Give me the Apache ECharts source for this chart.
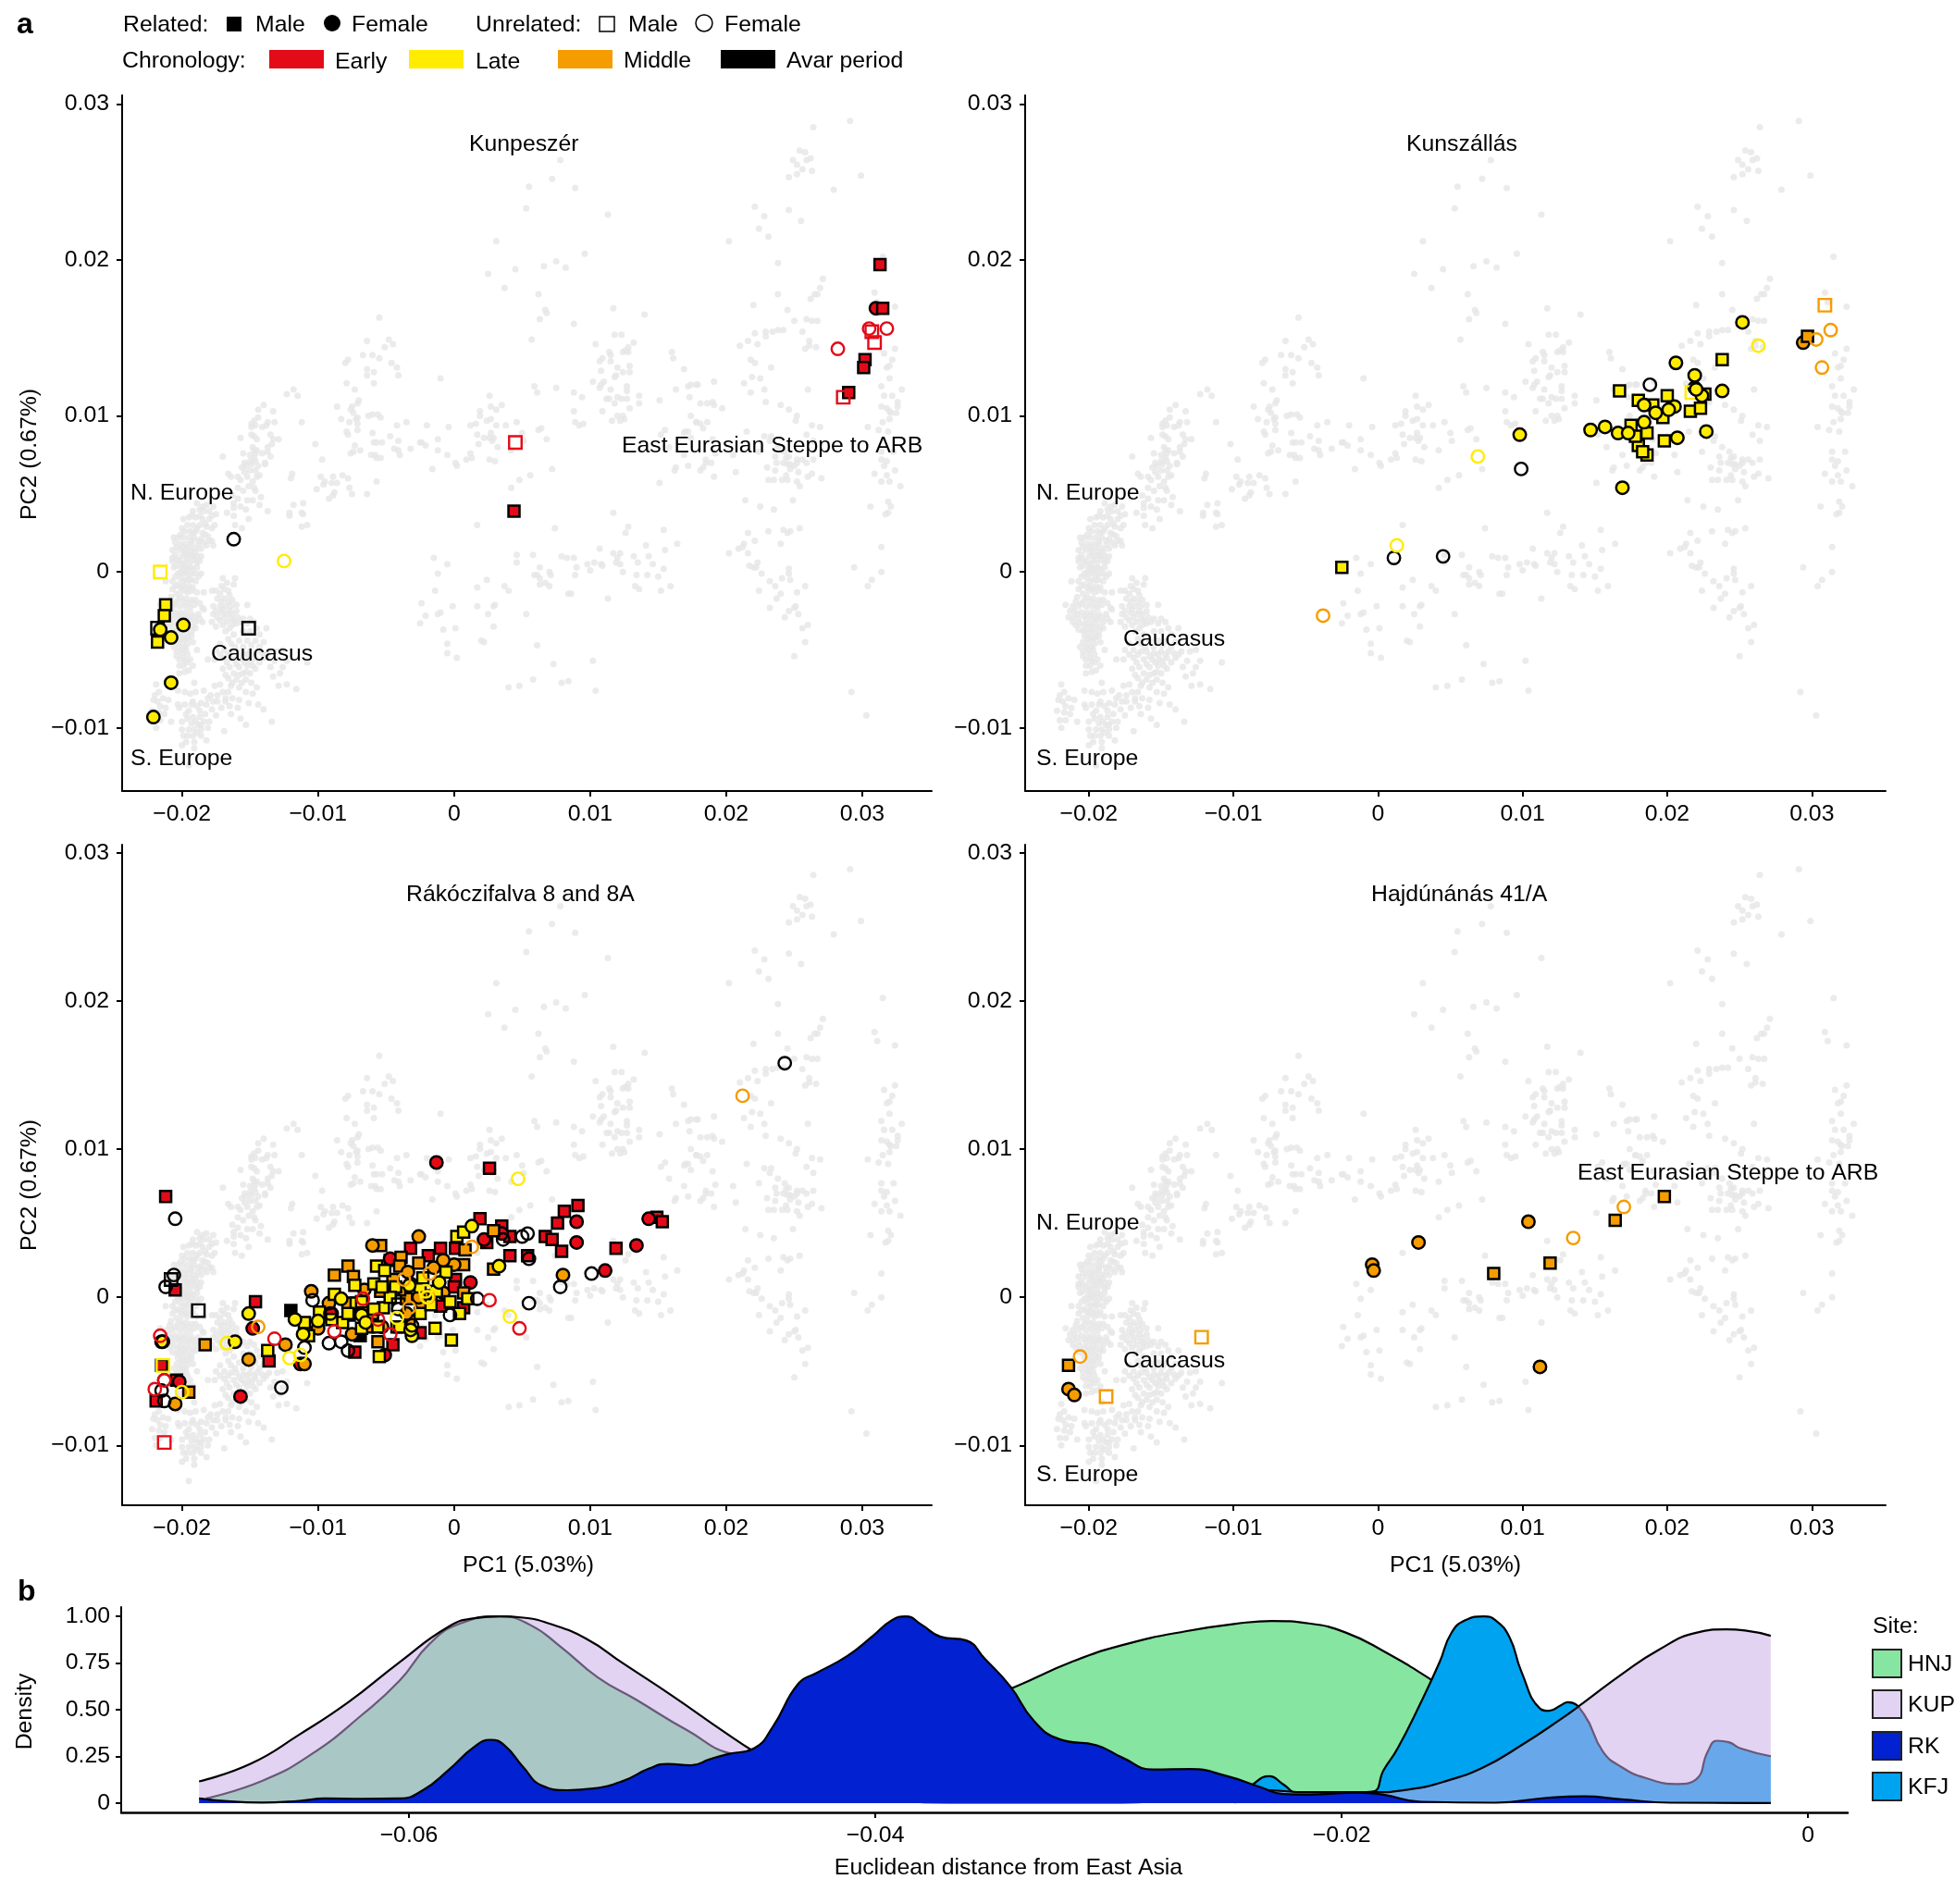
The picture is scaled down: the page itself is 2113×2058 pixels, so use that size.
<!DOCTYPE html>
<html><head><meta charset="utf-8"><style>html,body{margin:0;padding:0;background:#fff}#c{width:2113px;height:2058px}</style>
<script src="https://cdn.jsdelivr.net/npm/echarts@6/dist/echarts.min.js"></script></head><body><div id="c"></div>
<script>
// All PCA values below are in units of 1e-4 (PC1, PC2 pairs).
const UNIT = 1e-4;
const reference = [
-55,163,-64,148,-48,149,-45,146,-51,144,-67,139,-60,139,-55,137,-78,136,-80,134,-46,134,-42,131,-64,130,-59,128,-64,126,-41,126,-79,121,-59,121,-73,117,-118,117,-123,114,-115,113,-70,110,-71,108,-140,107,-86,106,-75,106,-76,104,-144,104,-133,103,-74,102,-63,100,-60,101,-56,101,-54,99,-71,99,-72,98,-144,99,-147,97,-83,98,-77,96,-71,95,-137,96,-132,96,-112,96,-149,95,-146,94,-138,94,-141,93,-149,93,-42,94,-35,96,-71,91,-79,90,-78,88,-60,89,-149,88,-135,88,-157,86,-147,87,-145,85,-133,85,-129,85,-47,87,-41,84,-59,83,-57,83,-53,83,-134,82,-102,82,-137,80,-73,81,-148,80,-147,78,-145,78,-137,77,-44,79,-41,78,-69,78,-32,79,-74,77,-76,76,-155,76,-141,76,-150,75,-146,76,-170,74,-135,74,-61,75,-58,75,-57,73,-54,73,-40,75,-147,73,-97,72,-25,83,-154,70,-150,71,-146,71,-139,70,
-98,61,-89,61,-82,62,-78,60,-57,58,-120,60,-119,63,-96,56,-95,58,-90,57,-86,57,-101,53,-77,54,-75,50,-64,50,-88,51,-89,49,-92,47,-118,43,-111,44,-112,38,-111,37,-121,38,-121,36,-108,30,-112,29,-137,39,-151,34,-161,30,-156,28,-143,43,-142,48,
-166,63,-164,61,-159,61,-156,67,-153,68,-149,69,-144,68,-139,69,-154,64,-150,65,-146,65,-143,62,-145,61,-152,61,-157,59,-148,58,-151,55,-147,54,-159,54,-155,52,-146,52,-163,49,-159,47,-152,46,-148,46,-162,44,-157,42,-153,40,-162,41,-167,38,-162,36,-178,36,-175,37,
-182,43,-187,40,-192,39,-184,39,-180,39,-199,34,-195,35,-190,35,-185,34,-180,34,-196,30,-192,30,-187,30,-182,29,-178,28,-198,26,-194,26,-190,26,-185,25,-181,23,-203,22,-199,22,-195,22,-191,22,-186,21,-178,20,-177,17,-205,19,-201,18,-197,18,-193,18,-188,17,-182,17,-207,14,-202,14,-198,14,-194,13,-190,13,-200,10,-196,10,-192,10,-186,10,-207,9,-207,7,-202,7,-198,6,-194,6,-189,6,-206,3,-200,2,-196,2,-192,2,-203,-1,-199,-1,-195,-2,-186,-1,-201,-4,-197,-5,-193,-5,-188,-3,-212,-6,-207,-6,-203,-8,-199,-9,-195,-9,-192,-10,-207,-11,-200,-12,-196,-13,-184,-13,-204,-14,-208,-16,-201,-16,-197,-17,-193,-18,-190,-18,-216,-21,-211,-22,-207,-22,-202,-22,-198,-22,-194,-23,-185,-23,-184,-24,-210,-25,-205,-26,-201,-26,-197,-26,-193,-27,-188,-27,-214,-29,-211,-29,-207,-30,-202,-30,-198,-30,-194,-31,-190,-32,-185,-32,-209,-34,-203,-34,-199,-35,-195,-35,-190,-36,-204,-38,-200,-39,-196,-39,-201,-43,-197,-43,-193,-41,-202,-48,-198,-48,-189,-50,-204,-51,-200,-52,-196,-53,-202,-56,-198,-57,-194,-56,-181,-56,-199,-60,-195,-63,-202,-65,
-161,-4,-170,-4,-167,-7,-171,-9,-162,-8,-178,-12,-175,-12,-169,-11,-166,-12,-174,-17,-169,-17,-165,-15,-177,-22,-172,-22,-168,-22,-164,-22,-160,-21,-152,-21,-177,-27,-171,-26,-167,-27,-163,-27,-178,-32,-172,-31,-167,-32,-162,-31,-155,-30,-150,-30,-147,-32,-165,-36,-160,-33,-145,-36,-138,-36,-164,-46,-175,-50,-169,-50,-164,-51,-160,-51,-155,-52,-150,-51,-145,-51,-138,-53,-136,-51,-130,-51,-126,-50,-176,-56,-169,-55,-162,-56,-156,-56,-151,-56,-146,-55,-140,-55,-132,-57,-123,-57,-108,-58,-170,-62,-165,-61,-158,-61,-152,-60,-148,-60,-135,-61,-126,-61,-162,-65,-155,-65,-150,-65,-128,-65,-133,-67,-166,-68,-160,-69,-153,-69,-149,-71,-145,-74,-129,-73,-123,-72,-116,-75,-176,-73,-164,-73,-158,-74,-170,-77,-166,-77,-174,-79,-179,-79,-182,-85,-174,-83,-168,-83,-163,-81,-158,-82,-151,-84,-144,-85,-140,-88,-165,-86,-159,-87,-171,-87,-164,-91,-157,-94,-153,-98,-134,-96,-169,-102,
-219,-72,-220,-79,-217,-77,-221,-82,-218,-83,-214,-81,-210,-82,-216,-86,-212,-87,-222,-89,-217,-90,-213,-91,-220,-95,-216,-95,-208,-96,-219,-100,
-203,-76,-198,-77,-194,-78,-190,-77,-184,-76,-191,-71,-203,-85,-198,-85,-193,-85,-186,-84,-181,-81,-202,-87,-195,-89,-187,-89,-183,-91,-196,-94,-192,-93,-187,-93,-184,-96,-180,-96,-193,-97,-188,-98,-200,-101,-195,-101,-191,-101,-186,-101,-181,-100,-199,-105,-192,-105,-186,-105,-182,-108,-197,-109,-191,-109,-200,-111,-191,-113,-195,-124,
-189,44,-185,42,-177,42,-193,36,-187,36,-183,31,-176,30,-200,28,-189,28,-201,24,-192,25,-183,24,-206,22,-193,20,-188,20,-184,19,-180,20,-204,16,-199,16,-195,16,-191,15,-186,15,-205,11,-198,12,-193,11,-189,10,-204,8,-200,5,-196,8,-191,8,-187,7,-204,4,-198,3,-194,3,-189,3,-201,0,-197,0,-193,-1,-190,-1,-205,-3,-199,-6,-195,-5,-190,-6,-205,-9,-201,-10,-197,-11,-193,-12,-189,-13,-203,-18,-199,-19,-195,-20,-191,-21,-187,-20,-209,-19,-205,-20,-213,-25,-208,-27,-203,-28,-199,-28,-195,-29,-191,-29,-187,-30,-211,-32,-206,-33,-201,-33,-197,-33,-192,-35,-207,-37,-202,-37,-198,-37,-193,-38,-203,-41,-199,-42,-195,-42,-204,-45,-200,-46,-196,-46,-192,-45,-206,-48,-200,-50,-197,-50,-204,-54,-199,-55,-196,-58,-202,-60,-192,-60,-198,-64,
-172,-14,-166,-19,-171,-19,-163,-18,-175,-25,-170,-24,-165,-25,-160,-25,-174,-29,-169,-29,-164,-30,-159,-29,-175,-35,-170,-34,-163,-34,-157,-32,-152,-33,-168,-38,-162,-40,-155,-38,-150,-38,-143,-40,-166,-43,-158,-44,-152,-44,-146,-44,-140,-45,-172,-46,-161,-48,-155,-48,-149,-47,-143,-48,-172,-53,-166,-53,-158,-54,-152,-53,-147,-53,-141,-52,-167,-58,-160,-59,-154,-58,-149,-57,-143,-58,-168,-66,-158,-66,-153,-64,-146,-62,-163,-71,-156,-71,-172,-72,-168,-81,-153,-77,-148,-78,-177,-83,-178,-88,-175,-92,-192,-83,-189,-86,-197,-91,-200,-96,-190,-96,-186,-98,-189,-103,-196,-105,
-16,66,2,68,72,66,56,62,48,59,42,54,17,30,74,28,-15,9,-5,5,-12,-1,46,11,58,11,46,6,63,3,70,0,71,-2,59,-2,61,-2,63,-4,24,-5,37,-9,40,-12,17,-10,63,-8,67,-7,70,-9,-14,-12,-24,-20,-1,-22,17,-22,29,-22,30,-21,25,-27,53,-27,-21,-28,-12,-27,-10,-26,-25,-33,-8,-37,1,-36,29,-35,20,-44,22,-45,-5,-46,61,-47,-5,-52,2,-55,73,-59,58,-69,48,-73,40,-74,79,-71,84,-70,104,-76,102,-57,79,10,83,9,88,9,90,3,89,-2,98,5,103,6,100,1,108,5,109,4,84,-14,86,-14,113,-17,107,15,117,12,122,12,120,9,119,6,122,5,124,0,132,10,135,6,134,-2,142,-2,143,10,146,5,154,2,150,-3,141,17,155,14,164,18,154,27,133,-9,136,-11,159,-9,152,-12,126,25,128,29,117,38,151,57,163,67,162,65,172,68,
78,264,72,252,55,247,89,246,53,233,113,229,31,212,96,204,75,199,66,196,82,195,45,194,25,191,37,182,62,178,67,168,68,166,63,162,88,159,57,149,117,169,140,165,118,152,123,152,104,146,132,147,128,144,124,141,126,142,128,141,114,141,115,139,109,137,107,135,115,135,129,132,120,131,108,129,124,128,129,128,119,126,118,125,-10,124,110,122,102,122,108,120,107,118,127,119,127,116,115,117,59,119,61,115,75,118,88,115,26,113,94,112,112,111,114,111,120,112,123,111,127,111,118,108,136,113,136,108,151,110,35,107,27,106,31,104,129,105,19,103,88,103,109,103,19,100,124,100,120,100,125,98,122,97,116,97,24,97,27,98,46,96,89,96,92,94,95,95,16,95,12,94,31,94,38,94,-20,94,-4,93,62,91,64,92,155,91,50,89,17,88,27,89,26,86,22,86,29,86,28,84,-12,85,51,84,68,85,-24,83,18,82,-21,81,32,80,-12,78,42,78,-5,75,12,76,13,73,9,72,26,72,30,71,1,70,169,89,172,90,174,86,169,75,174,100,178,96,173,112,163,117,172,119,174,120,178,120,169,130,160,141,161,137,
230,67,236,65,237,70,245,69,247,69,247,66,244,62,253,64,231,59,235,59,241,59,245,59,252,58,254,55,260,61,263,63,270,60,214,46,225,42,235,40,249,46,231,26,242,27,245,25,247,26,254,28,216,25,221,20,240,18,213,18,212,16,209,15,202,12,216,12,223,6,217,4,220,3,222,3,226,-1,246,2,246,-1,241,-4,247,-5,232,-6,236,-9,258,-9,224,-12,252,-13,240,-14,237,-17,232,-23,251,-22,250,-23,246,-25,253,-27,243,-29,260,-34,256,-36,258,-45,250,-54,292,-77,303,-92,207,64,191,61,181,65,183,67,185,70,189,70,252,70,259,70,309,63,316,68,318,62,314,58,320,58,324,65,328,55,319,45,321,42,306,42,319,38,317,37,314,16,294,3,314,0,307,-5,304,-9,
291,289,264,285,254,270,258,269,249,264,259,264,262,265,252,261,256,258,263,257,252,255,246,253,299,254,279,245,
221,234,246,232,228,228,255,225,224,220,231,215,202,212,315,202,238,198,271,188,269,182,267,178,265,178,238,178,309,179,262,175,311,173,220,171,324,170,245,168,259,162,250,161,263,161,267,161,242,155,238,155,234,154,229,154,256,154,221,153,229,151,216,148,261,148,223,146,210,145,261,145,266,144,258,143,324,143,316,140,218,136,221,134,322,136,320,132,318,131,233,131,219,125,225,124,320,124,191,122,213,121,179,120,314,119,329,117,228,117,260,117,218,115,316,113,322,113,229,109,181,108,186,108,190,109,191,107,240,107,326,109,326,106,314,106,197,105,246,104,318,105,320,103,325,102,321,102,320,98,252,100,251,97,178,96,181,95,186,96,183,92,315,96,263,94,269,93,304,93,312,91,319,90,170,90,228,87,233,87,259,88,264,84,243,77,236,74,244,73,252,72,256,72,264,72,224,77,185,72,192,76,314,77,323,77,314,72,318,71,232,84,238,80,242,70,246,74,250,68,190,85,205,75,215,90,152,88,158,80
];

// Kunpeszer
const kupEarlyRelM = [313,197,315,169,302,136,301,131,290,115,44,39];
const kupEarlyRelF = [310,169];
const kupEarlyUnM = [45,83,286,112,309,147,307,154];
const kupEarlyUnF = [282,143,305,156,318,156];
const kupLateRelM = [-212,-21,-213,-28,-218,-45];
const kupLateRelF = [-199,-34,-216,-37,-208,-42,-208,-71,-221,-93];
const kupLateUnM = [-216,0];
const kupLateUnF = [-125,7];
const kupAvarUnM = [-151,-36,-218,-36];
const kupAvarUnF = [-162,21];
// Kunszallas
const kfjLateRelM = [-25,3,167,116,180,110,190,107,200,113,226,114,238,136,216,103,223,105,197,99,175,94,186,89,198,84,180,81,186,75,178,87,183,77];
const kfjLateRelF = [98,88,147,91,157,93,166,89,173,89,169,54,184,96,192,102,205,106,201,104,207,86,227,90,238,116,224,113,220,117,219,126,206,134,252,160,184,107];
const kfjLateUnM = [217,115];
const kfjLateUnF = [69,74,13,17,263,145];
const kfjAvarUnF = [99,66,11,9,45,10,188,120,219,118];
const kfjMidRelM = [297,151];
const kfjMidRelF = [294,147];
const kfjMidUnM = [309,171];
const kfjMidUnF = [-38,-28,303,149,313,155,307,131];
// Rakoczifalva
const rkEarlyRelM = [-212,68,26,87,-146,-3,-205,5,-136,-43,91,62,81,58,76,50,67,41,72,39,79,31,41,28,54,28,119,33,149,54,153,51,19,53,35,48,41,41,24,37,1,33,-10,33,-32,33,-19,28,-47,25,1,12,0,7,-10,-6,7,-7,-73,-37,-25,-24,-45,-32,-219,-70,-215,-46,-204,-56];
const rkEarlyRelF = [-13,91,90,51,90,37,143,53,134,35,111,18,22,39,12,10,-148,-21,-157,-67,-51,-39,-202,-57,-113,-45,-90,-11,-47,26,35,43];
const rkEarlyUnM = [-213,-98];
const rkEarlyUnF = [26,-2,48,-21,-132,-28,-88,-23,-56,-15,-47,-25,-67,-1,-216,-26,-220,-62,-213,-56];
const rkMidRelM = [-88,15,-78,21,-74,14,-54,35,-39,27,-40,21,-26,23,-45,12,-54,4,7,22,29,19,29,45,8,32,7,3,-183,-32,-195,-64,-56,-30,-33,-16,-63,-20,-78,-4,-35,-1,-40,5,-23,1,-60,-11];
const rkMidRelF = [-60,35,-26,41,0,22,-105,4,-92,-4,80,15,-124,-32,-151,-42,-110,-45,-205,-72,-100,-21,-75,-25,-34,17,-15,20,-24,-4,-8,3,-66,5,-8,25,-44,5,-32,9,-26,0,-53,-20,-68,-7,-35,-11];
const rkMidUnF = [13,34,-144,-20,-18,16,-37,12,-33,-7,-19,0,212,136];
const rkLateRelM = [2,41,7,44,-57,21,-51,18,-59,9,-73,8,-88,2,-72,-4,-99,-10,-77,-12,-82,-17,-110,-17,-107,-26,-137,-36,-14,-21,-2,-29,4,-11,-3,-3,10,-1,-6,17,-13,4,-52,-7,-25,-11,-43,7,-17,-5,-55,-40,-42,-20,-68,-3,-59,-8,-47,0,-25,7,-56,-20,-40,-20,-23,13,-53,7,-78,-11,-68,-21,-90,-15];
const rkLateRelF = [13,48,33,21,-151,-11,-161,-30,-83,-1,-117,-15,-100,-16,-68,-12,-33,8,-11,10,-31,-26,-32,-22,-111,-25,-215,-30,-65,-17];
const rkLateUnM = [-214,-46];
const rkLateUnF = [47,80,41,-13,-121,-41,-167,-31,-200,-64,-42,-14,-113,-39,-21,4,-20,0];
const rkAvarRelM = [-120,-9,-69,-26];
const rkAvarUnM = [-188,-9,-208,12,-41,-5];
const rkAvarUnF = [-205,53,-206,15,-212,7,54,43,50,41,36,39,55,26,101,16,78,7,55,-4,17,-1,-104,-2,-91,-11,-92,-31,-83,-30,-110,-34,-78,-36,-127,-61,-215,-63,-213,-70,-213,-56,-214,-30,-41,-8,-3,-12,-31,-19,243,158];
// Hajdunanas
const hnjMidRelM = [80,16,119,23,164,52,198,68,-214,-46];
const hnjMidRelF = [104,51,28,37,-4,22,-3,18,112,-47,-214,-62,-210,-66];
const hnjMidUnM = [-122,-27,-188,-67];
const hnjMidUnF = [135,40,170,61,-206,-40];

// Density curves: x in 1e-4, density in percent
const densHNJ = [-687,2.5,-663,11.9,-642,26,-620,47.4,-604,65.6,-591,85.5,-578,96.2,-561,100,-548,95.4,-535,83.8,-519,67.3,-503,55.7,-481,39.2,-460,26,-433,22.6,-412,29.3,-390,39.2,-364,50.7,-340,62.3,-316,75.5,-294,84.6,-267,92,-241,96.7,-230,97.5,-214,96.2,-198,91.2,-182,81.3,-160,64.8,-144,50.7,-118,27.6,-91,9.4,-59,1.2,-16,0];
const densKUP = [-690,11.6,-668,21,-647,36.7,-626,54,-604,75.5,-583,94.5,-572,99,-561,100,-551,99.3,-540,96.2,-524,88,-508,74.7,-487,57.4,-465,38.3,-452,27.6,-433,14.4,-401,3.6,-369,0.3,-294,0.3,-262,2.8,-235,7,-214,5.8,-187,5.8,-171,7.3,-155,11.9,-139,19.3,-123,30.9,-107,44.1,-96,54,-80,68.9,-64,82.1,-48,91.2,-35,93,-27,92.4,-16,89.6];
const densRK = [-690,2.5,-663,0.3,-647,1.2,-636,2.5,-620,2.3,-604,2.5,-594,6.9,-583,17.7,-572,30.1,-565,33.9,-559,30.9,-551,19.3,-543,9.4,-532,6.9,-521,7.8,-508,11.9,-497,18.5,-489,21,-479,20.2,-471,23.5,-463,26.3,-452,29.3,-444,40.8,-433,64,-425,69.8,-412,78.8,-401,89.6,-393,97.9,-387,100,-380,95.4,-372,89.1,-361,87.1,-353,77.2,-342,62.3,-332,44.1,-321,34.2,-305,30.9,-294,24.3,-281,18,-265,18.2,-249,14.4,-235,8.6,-225,4.8,-214,4.5,-193,5.6,-182,4.5,-166,0.7,-134,0.2,-112,2.8,-96,3.6,-80,2,-59,0.2,-16,0];
const densKFJ = [-246,0,-238,10,-231,14.4,-225,10,-219,5.3,-209,5.1,-187,6.1,-182,17.7,-176,29.3,-166,54,-158,75.5,-153,91,-147,97.9,-139,100,-134,97.9,-128,88.8,-123,70.6,-115,50.7,-111,49.4,-106,52.4,-103,54,-96,47.4,-88,27.6,-80,19.3,-70,13.6,-56,10.2,-48,12.7,-43,27.6,-39,33.4,-34,32.6,-29,29.3,-16,25.1];

const pcXTicks = [-0.02,-0.01,0,0.01,0.02,0.03];
const pcYTicks = [-0.01,0,0.01,0.02,0.03];
const densXTicks = [-0.06,-0.04,-0.02,0];
const densYTicks = [0,0.25,0.5,0.75,1];
const chronNames = ['Early','Late','Middle','Avar period'];
const siteNames = ['HNJ','KUP','RK','KFJ'];

const RED='#e30b17', YEL='#ffec00', ORG='#f59c00', BLK='#000000';
const FONT='"Liberation Sans", Arial, sans-serif';
const FS=24.8;
const pairs=(a)=>{const o=[];for(let i=0;i<a.length;i+=2)o.push([a[i]*UNIT,a[i+1]*UNIT]);return o;};
const fmt=(v)=>{ if(Math.abs(v)<1e-9) return '0'; return (v<0?'\u2212':'')+Math.abs(v).toFixed(2); };

const grids=[
 {left:132,top:103,width:875,height:752},
 {left:1108,top:103,width:930,height:752},
 {left:132,top:913,width:875,height:714},
 {left:1108,top:913,width:930,height:714},
 {left:131,top:1737,width:1866,height:222}
];
const axisCommon={axisLine:{show:true,onZero:false,lineStyle:{color:'#000',width:2}},axisTick:{show:true,length:6,lineStyle:{color:'#000',width:2}},splitLine:{show:false}};
const xAxes=[],yAxes=[];
for(let i=0;i<4;i++){
 xAxes.push({...axisCommon,type:'value',gridIndex:i,min:-0.0244,max:0.0351,
  axisTick:{...axisCommon.axisTick,customValues:pcXTicks},
  axisLabel:{customValues:pcXTicks,formatter:fmt,fontSize:FS,fontFamily:FONT,color:'#000',margin:13}});
 yAxes.push({...axisCommon,type:'value',gridIndex:i,min:-0.01404,max:0.03055,
  axisTick:{...axisCommon.axisTick,customValues:pcYTicks},
  axisLabel:{customValues:pcYTicks,formatter:fmt,fontSize:FS,fontFamily:FONT,color:'#000',margin:14}});
}
xAxes.push({...axisCommon,type:'value',gridIndex:4,min:-0.07234,max:0.0017,
 axisLine:{show:true,onZero:false,lineStyle:{color:'#000',width:2.5}},
 axisTick:{...axisCommon.axisTick,customValues:densXTicks},
 axisLabel:{customValues:densXTicks,formatter:fmt,fontSize:FS,fontFamily:FONT,color:'#000',margin:13}});
yAxes.push({...axisCommon,type:'value',gridIndex:4,min:-0.05,max:1.05,
 axisTick:{...axisCommon.axisTick,customValues:densYTicks},
 axisLabel:{customValues:densYTicks,formatter:(v)=>Math.abs(v)<1e-9?'0':v.toFixed(2),fontSize:FS,fontFamily:FONT,color:'#000',margin:12}});

const series=[];
const greyData=pairs(reference);
for(let i=0;i<4;i++){
 series.push({type:'scatter',xAxisIndex:i,yAxisIndex:i,data:greyData,symbol:'circle',symbolSize:7,silent:true,z:1,
  itemStyle:{color:'#e6e6e6'},animation:false});
}
function add(p,data,color,rel,sex,z){
 series.push({type:'scatter',xAxisIndex:p,yAxisIndex:p,data:pairs(data),silent:true,z:z,animation:false,
  symbol:sex==='M'?'rect':'circle',symbolSize:sex==='M'?(rel?12:13.5):13.5,
  itemStyle: rel?{color:color,borderColor:'#000',borderWidth:2.5,opacity:1}
               :{color:'rgba(0,0,0,0)',borderColor:color,borderWidth:2.4,opacity:1}});
}
// Kunpeszer
add(0,kupAvarUnM,BLK,false,'M',2);add(0,kupAvarUnF,BLK,false,'F',2);
add(0,kupEarlyRelF,RED,true,'F',3);add(0,kupEarlyRelM,RED,true,'M',3);
add(0,kupEarlyUnM,RED,false,'M',4);add(0,kupEarlyUnF,RED,false,'F',4);
add(0,kupLateRelM,YEL,true,'M',3);add(0,kupLateRelF,YEL,true,'F',3);
add(0,kupLateUnM,YEL,false,'M',4);add(0,kupLateUnF,YEL,false,'F',4);
// Kunszallas
add(1,kfjAvarUnF,BLK,false,'F',2);
add(1,kfjLateUnM,YEL,false,'M',2);
add(1,kfjLateRelM,YEL,true,'M',3);add(1,kfjLateRelF,YEL,true,'F',3);
add(1,kfjLateUnF,YEL,false,'F',4);
add(1,kfjMidRelF,ORG,true,'F',3);add(1,kfjMidRelM,ORG,true,'M',3);
add(1,kfjMidUnM,ORG,false,'M',4);add(1,kfjMidUnF,ORG,false,'F',4);
// Rakoczifalva
add(2,rkAvarRelM,BLK,true,'M',2);
add(2,rkEarlyRelM,RED,true,'M',3);add(2,rkEarlyRelF,RED,true,'F',3);
add(2,rkMidRelM,ORG,true,'M',4);add(2,rkMidRelF,ORG,true,'F',4);
add(2,rkLateRelM,YEL,true,'M',5);add(2,rkLateRelF,YEL,true,'F',5);
add(2,rkAvarUnM,BLK,false,'M',6);add(2,rkAvarUnF,BLK,false,'F',6);
add(2,rkEarlyUnM,RED,false,'M',7);add(2,rkEarlyUnF,RED,false,'F',7);
add(2,rkMidUnF,ORG,false,'F',7);
add(2,rkLateUnM,YEL,false,'M',7);add(2,rkLateUnF,YEL,false,'F',7);
// Hajdunanas
add(3,hnjMidRelM,ORG,true,'M',3);add(3,hnjMidRelF,ORG,true,'F',3);
add(3,hnjMidUnM,ORG,false,'M',4);add(3,hnjMidUnF,ORG,false,'F',4);

function dens(d){const o=[];for(let i=0;i<d.length;i+=2)o.push([d[i]*UNIT,d[i+1]/100]);return o;}
function addDens(d,fill,z){
 series.push({type:'line',xAxisIndex:4,yAxisIndex:4,data:dens(d),smooth:0.5,symbol:'none',z:z,silent:true,animation:false,
  lineStyle:{color:'#000',width:2.2},areaStyle:{color:fill,opacity:1,origin:'auto'},itemStyle:{color:fill}});
}
addDens(densHNJ,'#86e5a1',2);
addDens(densKFJ,'#00a3f0',3);
addDens(densKUP,'rgba(201,170,230,0.52)',4);
addDens(densRK,'#0221d0',5);

const g=[];
function T(text,x,y,opt){opt=opt||{};
 g.push({type:'text',x:x,y:y+1,rotation:opt.rot||0,silent:true,z:50,style:{text:text,fontSize:opt.fs||FS,fontFamily:FONT,fontWeight:opt.bold?'bold':'normal',fill:'#000',textAlign:opt.align||'left',textVerticalAlign:'middle'}});
}
function R(x,y,w,h,fill,stroke,lw){g.push({type:'rect',silent:true,z:50,shape:{x:x,y:y,width:w,height:h},style:{fill:fill,stroke:stroke||null,lineWidth:lw||0}});}
function C(x,y,r,fill,stroke,lw){g.push({type:'circle',silent:true,z:50,shape:{cx:x,cy:y,r:r},style:{fill:fill,stroke:stroke||null,lineWidth:lw||0}});}
T('a',18,26,{bold:true,fs:32});
T('b',19,1720,{bold:true,fs:32});
T('Related:',133,26);R(245,18,16,16,'#000');T('Male',276,26);C(359,25,9,'#000');T('Female',380,26);
T('Unrelated:',514,26);R(648,18,16,16,'none','#000',1.5);T('Male',679,26);C(761,25,9,'none','#000',1.5);T('Female',783,26);
T('Chronology:',132,65);
R(291,54,59,20,RED);T(chronNames[0],362,66);
R(442,54,59,20,YEL);T(chronNames[1],514,66);
R(603,54,59,20,ORG);T(chronNames[2],674,65);
R(779,54,59,20,BLK);T(chronNames[3],850,65);
// panel annotations
T('Kunpesz\u00e9r',507,155);T('East Eurasian Steppe to ARB',672,481);T('N. Europe',141,532);T('Caucasus',228,706);T('S. Europe',141,819);
T('Kunsz\u00e1ll\u00e1s',1520,155);T('N. Europe',1120,532);T('Caucasus',1214,690);T('S. Europe',1120,819);
T('R\u00e1k\u00f3czifalva 8 and 8A',439,966);
T('Hajd\u00fan\u00e1n\u00e1s 41/A',1482,966);T('East Eurasian Steppe to ARB',1705,1267);T('N. Europe',1120,1321);T('Caucasus',1214,1470);T('S. Europe',1120,1593);
T('PC2 (0.67%)',32,490,{rot:Math.PI/2,align:'center'});
T('PC2 (0.67%)',32,1280,{rot:Math.PI/2,align:'center'});
T('PC1 (5.03%)',571,1691,{align:'center'});
T('PC1 (5.03%)',1573,1691,{align:'center'});
T('Density',27,1849,{rot:Math.PI/2,align:'center'});
T('Euclidean distance from East Asia',1090,2018,{align:'center'});
T('Site:',2024,1757);
const siteFill=['#86e5a1','#e3d3f2','#0221d0','#00a3f0'];
const siteY=[1783,1827,1872,1916];
for(let i=0;i<4;i++){R(2024,siteY[i],31,30,siteFill[i],'#222',2);T(siteNames[i],2062,siteY[i]+15);}

echarts.init(document.getElementById('c'),null,{renderer:'canvas'}).setOption({
 animation:false,backgroundColor:'#fff',grid:grids,xAxis:xAxes,yAxis:yAxes,series:series,graphic:{elements:g}
});
</script></body></html>
